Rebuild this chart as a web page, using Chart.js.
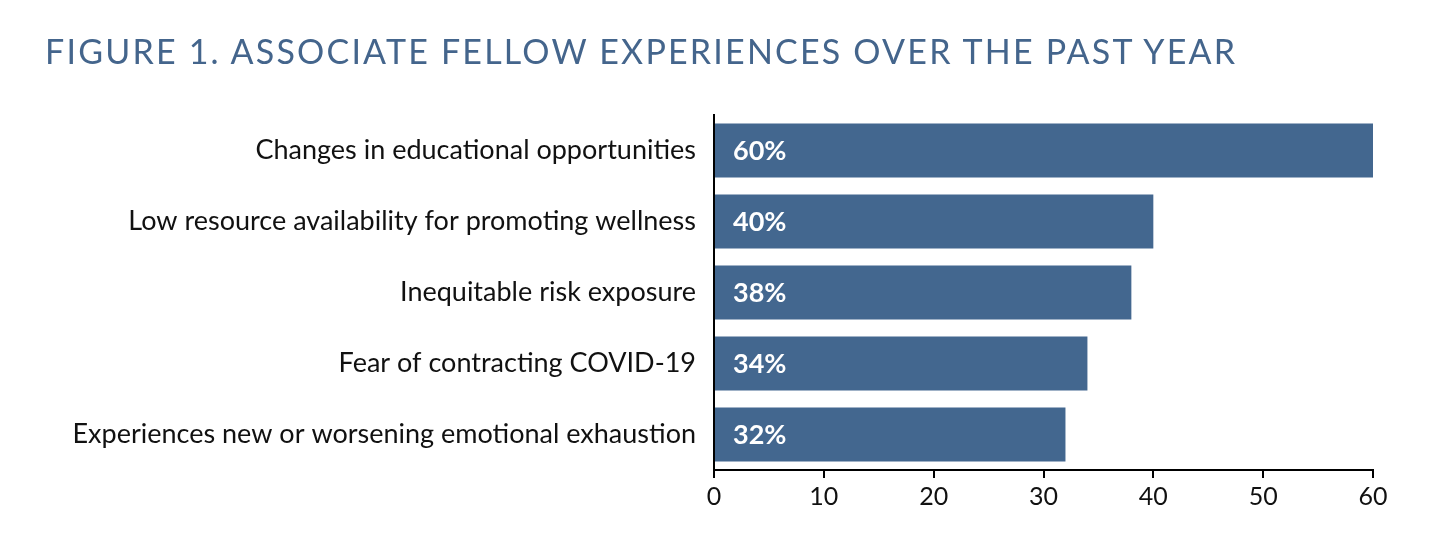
<!DOCTYPE html><html><head><meta charset="utf-8">
<script src="https://cdn.jsdelivr.net/npm/chart.js@4/dist/chart.umd.min.js"></script>
<style>body{margin:0;background:#fff;}#t{position:absolute;left:45px;top:30px;font:34px Lato,sans-serif;color:#44658c;letter-spacing:2.2px;}#w{position:absolute;left:0;top:0;width:1456px;height:549px;}</style>
</head><body><div id="w"><canvas id="c"></canvas></div><div id="t">FIGURE 1. ASSOCIATE FELLOW EXPERIENCES OVER THE PAST YEAR</div>
<script>
const categories=["Changes in educational opportunities","Low resource availability for promoting wellness","Inequitable risk exposure","Fear of contracting COVID-19","Experiences new or worsening emotional exhaustion"];
const values=[60,40,38,34,32];
const xTicks=[0,10,20,30,40,50,60];
const labelsPlugin={id:'lbl',afterDatasetsDraw(ch){const ctx=ch.ctx;const m=ch.getDatasetMeta(0);ctx.save();ctx.fillStyle='#fff';ctx.font='bold 27px Lato, sans-serif';ctx.textBaseline='middle';m.data.forEach((b,i)=>{ctx.fillText(values[i]+'%',ch.scales.x.left+19,b.y+1);});ctx.restore();}};
new Chart(document.getElementById('c'),{type:'bar',data:{labels:categories,datasets:[{data:values,backgroundColor:'#43678f',barPercentage:0.76,categoryPercentage:1}]},
options:{indexAxis:'y',responsive:true,maintainAspectRatio:false,animation:false,layout:{padding:{top:115,right:83,left:0,bottom:0}},
plugins:{legend:{display:false},tooltip:{enabled:false}},
scales:{x:{min:0,max:60,afterBuildTicks(s){s.ticks=xTicks.map(v=>({value:v}));},grid:{display:true,drawOnChartArea:false,drawTicks:true,tickLength:8,color:'#000',lineWidth:2},border:{color:'#000',width:2},ticks:{color:'#111',font:{family:'Lato',size:25},padding:4},afterFit(s){s.height=79;}},
y:{grid:{display:false},border:{color:'#000',width:2},ticks:{color:'#111',font:{family:'Lato',size:27},padding:10},afterFit(s){s.width=714;}}}},plugins:[labelsPlugin]});
</script></body></html>
